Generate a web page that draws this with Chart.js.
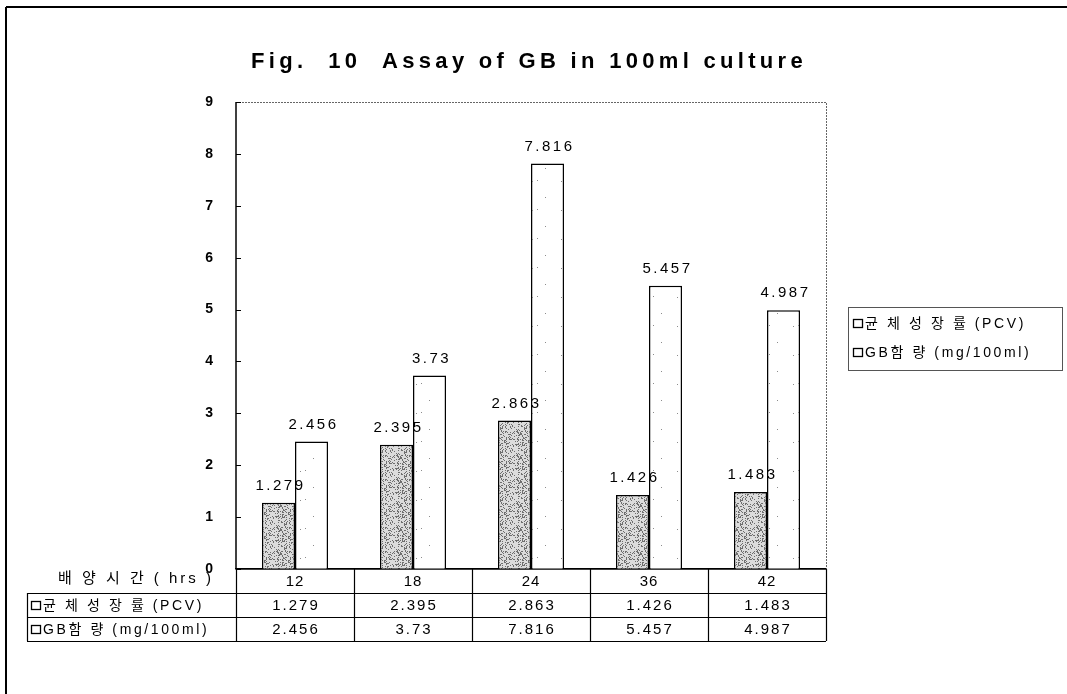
<!DOCTYPE html>
<html>
<head>
<meta charset="utf-8">
<script src="https://cdn.jsdelivr.net/npm/chart.js@4"></script>
<style>
  html, body { margin: 0; padding: 0; background: #fff; }
  #wrap { position: relative; width: 1067px; height: 694px; }
</style>
</head>
<body>
<div id="wrap"><canvas id="gbChart" width="1067" height="694"></canvas></div>
<script>
const categories = ['12', '18', '24', '36', '42'];
const pcvValues = [1.279, 2.395, 2.863, 1.426, 1.483];
const gbValues = [2.456, 3.73, 7.816, 5.457, 4.987];
const seriesLabels = ['균 체 성 장 률 (PCV)', 'GB함 량 (mg/100ml)'];
const axisTitle = '배 양 시 간 ( hrs )';
const chartTitle = 'Fig.  10  Assay of GB in 100ml culture';
const yMin = 0, yMax = 9, yStep = 1;

const FONT = "'Liberation Sans', 'Noto Sans CJK KR', Arial, sans-serif";

// stippled fills for the two series (small seeded generator, texture only)
function makePattern(size, bg, count, dotColor, seed) {
  const c = document.createElement('canvas');
  c.width = size; c.height = size;
  const g = c.getContext('2d');
  g.fillStyle = bg;
  g.fillRect(0, 0, size, size);
  g.fillStyle = dotColor;
  let s = seed;
  const next = () => { s = (s * 1103515245 + 12345) % 2147483648; return s / 2147483648; };
  for (let k = 0; k < count; k++) {
    g.fillRect(Math.floor(next() * size), Math.floor(next() * size), 1, 1);
  }
  return g.createPattern(c, 'repeat');
}
const pcvFill = makePattern(24, '#dcdcdc', 170, '#6f6f6f', 7);
const gbFill = makePattern(29, '#ffffff', 3, '#8c8c8c', 3);

const frame = {
  id: 'frame',
  beforeDraw(chart) {
    const ctx = chart.ctx;
    ctx.save();
    ctx.fillStyle = '#fff';
    ctx.fillRect(0, 0, chart.width, chart.height);
    ctx.strokeStyle = '#000';
    ctx.lineWidth = 2;
    ctx.beginPath();
    ctx.moveTo(6, 7); ctx.lineTo(1067, 7);
    ctx.moveTo(6, 7); ctx.lineTo(6, 694);
    ctx.stroke();
    // title
    ctx.letterSpacing = '4.3px';
    ctx.font = 'bold 22px ' + FONT;
    ctx.fillStyle = '#000';
    ctx.textAlign = 'center';
    ctx.textBaseline = 'middle';
    ctx.fillText(chartTitle, 529, 62);
    ctx.restore();
    ctx.letterSpacing = '1px';
  },
  afterDraw(chart) {
    const ctx = chart.ctx;
    const { left, right, top, bottom } = chart.chartArea;
    const x = chart.scales.x, y = chart.scales.y;
    ctx.save();
    // plot frame
    ctx.strokeStyle = '#666';
    ctx.lineWidth = 1;
    ctx.setLineDash([2, 1]);
    ctx.beginPath();
    ctx.moveTo(left, top + 0.5); ctx.lineTo(right + 0.5, top + 0.5); ctx.lineTo(right + 0.5, bottom);
    ctx.stroke();
    ctx.setLineDash([]);
    ctx.strokeStyle = '#000';
    ctx.lineWidth = 1.5;
    ctx.beginPath();
    ctx.moveTo(left, top); ctx.lineTo(left, bottom);
    ctx.stroke();
    // inner tick marks
    ctx.lineWidth = 1;
    ctx.beginPath();
    for (let v = yMin; v <= yMax; v += yStep) {
      const py = Math.round(y.getPixelForValue(v)) + 0.5;
      ctx.moveTo(left, py); ctx.lineTo(left + 5, py);
    }
    ctx.stroke();

    // data table under the axis
    const rowH = 24;
    const tableLeft = 27;
    const half = (x.getPixelForValue(1) - x.getPixelForValue(0)) / 2;
    ctx.lineWidth = 1.2;
    ctx.strokeStyle = '#000';
    ctx.beginPath();
    ctx.moveTo(left, bottom); ctx.lineTo(right, bottom);
    for (let r = 1; r <= 3; r++) {
      const py = bottom + rowH * r + 0.5;
      ctx.moveTo(tableLeft, py); ctx.lineTo(right, py);
    }
    ctx.moveTo(tableLeft + 0.5, bottom + rowH); ctx.lineTo(tableLeft + 0.5, bottom + rowH * 3);
    for (let i = 0; i <= categories.length; i++) {
      const px = i < categories.length ? x.getPixelForValue(i) - half : x.getPixelForValue(i - 1) + half;
      ctx.moveTo(Math.round(px) + 0.5, bottom); ctx.lineTo(Math.round(px) + 0.5, bottom + rowH * 3);
    }
    ctx.stroke();

    ctx.fillStyle = '#000';
    ctx.textBaseline = 'middle';
    ctx.letterSpacing = '3px';
    ctx.font = '15px ' + FONT;
    ctx.textAlign = 'center';
    ctx.fillText(axisTitle, 136, bottom + 10);
    const rows = [pcvValues, gbValues];
    rows.forEach((vals, r) => {
      const cy = bottom + rowH * (r + 1) + rowH / 2 + 1;
      ctx.textAlign = 'center';
      ctx.letterSpacing = '2px';
      ctx.font = '15px ' + FONT;
      vals.forEach((v, i) => ctx.fillText(String(v), x.getPixelForValue(i) + 1, cy));
      drawKey(ctx, tableLeft + 4, cy);
      ctx.textAlign = 'left';
      ctx.letterSpacing = '2.6px';
      ctx.font = '14px ' + FONT;
      ctx.fillText(seriesLabels[r], tableLeft + 16, cy);
    });

    // legend box
    ctx.strokeStyle = '#555';
    ctx.lineWidth = 1;
    ctx.strokeRect(848.5, 307.5, 214, 63);
    seriesLabels.forEach((lab, r) => {
      const cy = 324 + r * 29;
      drawKey(ctx, 853, cy);
      ctx.textAlign = 'left';
      ctx.letterSpacing = '2.6px';
      ctx.font = '14px ' + FONT;
      ctx.fillStyle = '#000';
      ctx.fillText(lab, 865, cy);
    });
    ctx.restore();
  },
  afterDatasetsDraw(chart) {
    const ctx = chart.ctx;
    ctx.save();
    ctx.letterSpacing = '2.5px';
    ctx.font = '15px ' + FONT;
    ctx.fillStyle = '#000';
    ctx.textAlign = 'center';
    ctx.textBaseline = 'middle';
    chart.data.datasets.forEach((ds, d) => {
      chart.getDatasetMeta(d).data.forEach((bar, i) => {
        ctx.fillText(String(ds.data[i]), bar.x + 2, bar.y - 17);
      });
    });
    ctx.restore();
  }
};

function drawKey(ctx, x0, cy) {
  ctx.save();
  ctx.strokeStyle = '#000';
  ctx.lineWidth = 1.3;
  ctx.strokeRect(x0 + 0.5, cy - 4.5, 9, 8);
  ctx.restore();
}

new Chart(document.getElementById('gbChart'), {
  type: 'bar',
  data: {
    labels: categories,
    datasets: [
      { label: seriesLabels[0], data: pcvValues, backgroundColor: pcvFill, borderColor: '#000', borderWidth: 1.5 },
      { label: seriesLabels[1], data: gbValues, backgroundColor: gbFill, borderColor: '#000', borderWidth: 1.5 }
    ]
  },
  options: {
    responsive: false,
    animation: false,
    datasets: { bar: { categoryPercentage: 0.56, barPercentage: 1.0 } },
    layout: { padding: { left: 0, top: 102, right: 241, bottom: 0 } },
    plugins: { legend: { display: false }, tooltip: { enabled: false }, title: { display: false } },
    scales: {
      x: {
        grid: { display: false, drawTicks: false },
        border: { display: true, color: '#000', width: 1.5 },
        ticks: { color: '#000', font: { family: FONT, size: 15 }, padding: 4 },
        afterFit(scale) { scale.height = 125; }
      },
      y: {
        min: yMin, max: yMax,
        grid: { display: false },
        border: { display: false },
        ticks: { stepSize: yStep, color: '#000', font: { family: FONT, size: 14, weight: 'bold' }, padding: 14 },
        afterFit(scale) { scale.width = 236; }
      }
    }
  },
  plugins: [frame]
});
</script>
</body>
</html>
